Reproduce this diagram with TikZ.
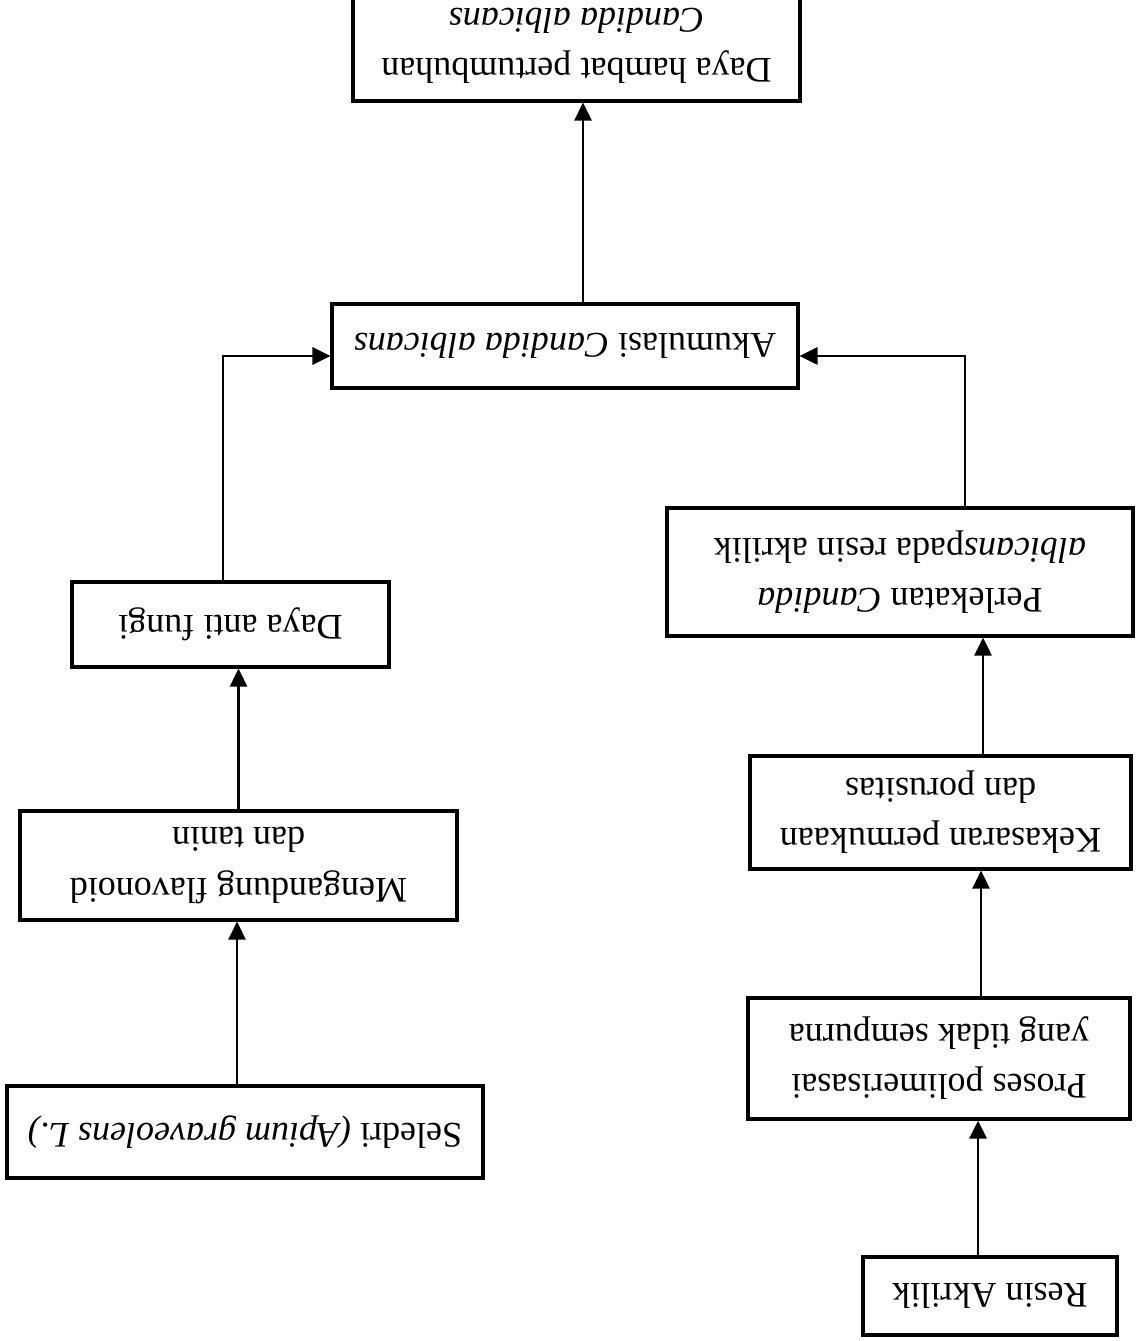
\documentclass[tikz,border=0pt]{standalone}
\usepackage{fontspec}
\setmainfont{Liberation Serif}
\usetikzlibrary{arrows.meta}

\begin{document}
\begin{tikzpicture}[x=0.02cm,y=-0.02cm,
kotak/.style={draw,line width=1.8pt,rotate=180,align=center,inner sep=0pt,font=\fontsize{20.5}{28.5}\selectfont},
panah/.style={line width=1.6pt,-{Triangle[length=0.36cm,width=0.34cm]}}]

\useasboundingbox (0,0) rectangle (1135,1341);
\clip (0,0) rectangle (1135,1341);

\node (hambat) at (576.5,45.5)[kotak,minimum width=8.94cm,minimum height=2.22cm]{Daya hambat pertumbuhan\\\textit{Candida albicans}};

\node (akum) at (565,346)[kotak,minimum width=9.32cm,minimum height=1.68cm]{Akumulasi \textit{Candida albicans}};

\node (anti) at (230.5,624.5)[kotak,minimum width=6.34cm,minimum height=1.7cm]{Daya anti fungi};

\node (lekat) at (900,572)[kotak,minimum width=9.32cm,minimum height=2.56cm]{Perlekatan \textit{Candida}\\\textit{albicans}pada resin akrilik};

\node (flavo) at (238.5,865.5)[kotak,minimum width=8.74cm,minimum height=2.18cm]{Mengandung flavonoid\\dan tanin};

\node (kasar) at (940.5,812.5)[kotak,minimum width=7.62cm,minimum height=2.26cm]{Kekasaran permukaan\\dan porusitas};

\node (seledri) at (245,1132)[kotak,minimum width=9.52cm,minimum height=1.84cm]{Seledri \textit{(Apium graveolens L.)}};

\node (proses) at (939,1058.5)[kotak,minimum width=7.64cm,minimum height=2.42cm]{Proses polimerisasai\\yang tidak sempurna};

\node (resin) at (990,1296)[kotak,minimum width=5.08cm,minimum height=1.56cm]{Resin Akrilik};

% kolom kiri
\path ([xshift=-0.16cm]seledri.south) coordinate (s1);
\draw[panah] (s1) -- (s1 |- flavo.north);
\draw[panah] (flavo.south) -- (flavo.south |- anti.north);
\draw[panah] ([xshift=-0.15cm]anti.south) |- ([yshift=-0.2cm]akum.east);

% kolom kanan
\path ([xshift=-0.24cm]resin.south) coordinate (r1);
\draw[panah] (r1) -- (r1 |- proses.north);
\path ([xshift=0.84cm]proses.south) coordinate (r2);
\draw[panah] (r2) -- (r2 |- kasar.north);
\path ([xshift=0.85cm]kasar.south) coordinate (r3);
\draw[panah] (r3) -- (r3 |- lekat.north);
\draw[panah] ([xshift=1.3cm]lekat.south) |- ([yshift=-0.2cm]akum.west);

\path ([xshift=0.36cm]akum.south) coordinate (a1);
\draw[panah] (a1) -- (a1 |- hambat.north);

\end{tikzpicture}
\end{document}
